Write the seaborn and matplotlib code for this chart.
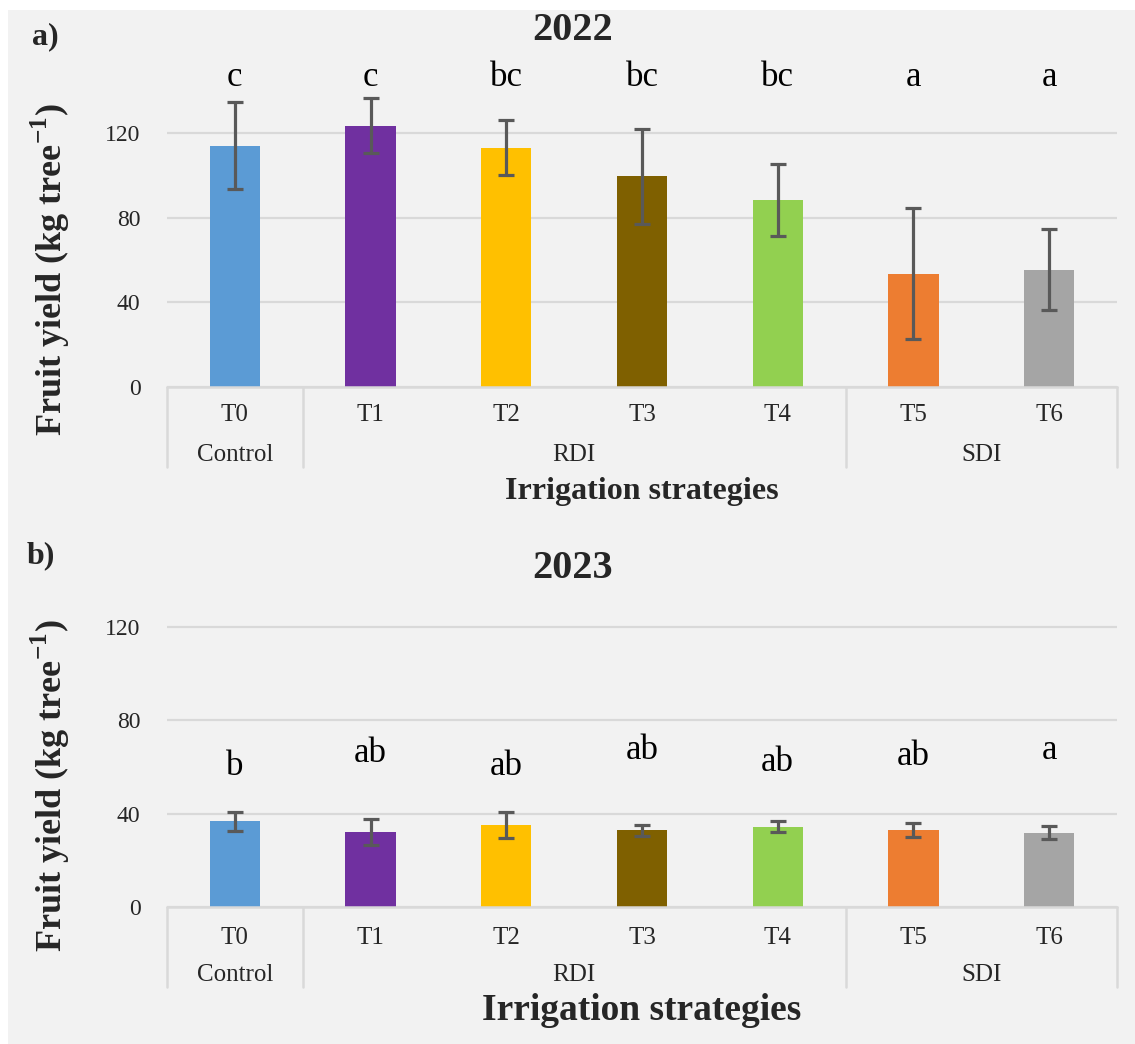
import numpy as np
import pandas as pd
import seaborn as sns
import matplotlib
matplotlib.use("Agg")
import matplotlib.pyplot as plt
from matplotlib.transforms import ScaledTranslation
from matplotlib.patches import Rectangle

# ---- data -------------------------------------------------------------
treatments = ["T0", "T1", "T2", "T3", "T4", "T5", "T6"]
strategies = ["Control", "RDI", "RDI", "RDI", "RDI", "SDI", "SDI"]
bar_colors = ["#5b9bd5", "#7030a0", "#ffc000", "#7f6000",
              "#92d050", "#ed7d31", "#a5a5a5"]

yield_2022 = [114.0, 123.5, 113.0, 99.5, 88.5, 53.5, 55.5]
err_2022 = [20.5, 13.0, 13.0, 22.5, 17.0, 31.0, 19.0]
letters_2022 = ["c", "c", "bc", "bc", "bc", "a", "a"]

yield_2023 = [36.7, 32.2, 35.0, 32.8, 34.5, 33.0, 31.9]
err_2023 = [4.2, 5.7, 5.6, 2.3, 2.4, 3.1, 2.9]
letters_2023 = ["b", "ab", "ab", "ab", "ab", "ab", "a"]

y_ticks = [0, 40, 80, 120]

# ---- style ------------------------------------------------------------
sns.set_style("white")
plt.rcParams["font.family"] = ["Liberation Serif", "DejaVu Serif"]
plt.rcParams["mathtext.fontset"] = "custom"
plt.rcParams["mathtext.rm"] = "Liberation Serif"
plt.rcParams["mathtext.bf"] = "Liberation Serif:bold"

BG = "#f2f2f2"
GRID = "#d9d9d9"
TXT = "#262626"
W, H, DPI = 1135, 1044, 100

fig = plt.figure(figsize=(W / DPI, H / DPI), dpi=DPI, facecolor=BG)
# thin white frame along the top and left edges
fig.patches.append(Rectangle((0, 1 - 10 / H), 1, 10 / H, transform=fig.transFigure,
                             facecolor="white", edgecolor="none", zorder=-1))
fig.patches.append(Rectangle((0, 0), 8 / W, 1, transform=fig.transFigure,
                             facecolor="white", edgecolor="none", zorder=-1))

YMAX = 160


def make_axes(base_px, px_per_unit):
    height_px = YMAX * px_per_unit
    return fig.add_axes([167 / W, 1 - base_px / H, 950 / W, height_px / H]), height_px


def below(ax, px):
    """x in data units, y a fixed number of pixels under the baseline."""
    return ax.get_xaxis_transform() + ScaledTranslation(0, -px / DPI, fig.dpi_scale_trans)


def draw_panel(ax, height_px, values, errors, letters, letter_y, letter_size,
               tick_off, group_off, xlabel_off, xlabel_size, sep_depth):
    df = pd.DataFrame({"Treatment": treatments, "Yield": values})
    sns.barplot(data=df, x="Treatment", y="Yield", hue="Treatment",
                palette=bar_colors, order=treatments, hue_order=treatments,
                width=0.37, errorbar=None, legend=False, ax=ax,
                linewidth=0, saturation=1)
    xs = np.arange(len(treatments))
    ax.errorbar(xs, values, yerr=errors, fmt="none", ecolor="#595959",
                elinewidth=2.3, capsize=5.5, capthick=2.3, zorder=3)

    for x, lab, ly in zip(xs, letters, letter_y):
        ax.text(x, ly, lab, ha="center", va="baseline",
                fontsize=letter_size, color="black")

    ax.set_facecolor(BG)
    ax.set_xlim(-0.5, len(treatments) - 0.5)
    ax.set_ylim(0, YMAX)
    ax.set_yticks(y_ticks)
    ax.yaxis.grid(True, color=GRID, linewidth=1.6)
    ax.set_axisbelow(True)
    for s in ax.spines.values():
        s.set_visible(False)
    ax.tick_params(axis="y", length=0, pad=19, labelsize=17, labelcolor=TXT)
    ax.set_xticks([])
    ax.set_xlabel("")
    ax.set_ylabel("")

    # multi-level category axis
    ax.plot([-0.5, len(treatments) - 0.5], [0, 0], color=GRID, lw=1.8,
            clip_on=False, zorder=1)
    depth = -sep_depth / height_px
    for xb in [-0.5, 0.5, 4.5, 6.5]:
        ax.plot([xb, xb], [0, depth], color=GRID, lw=1.8,
                transform=ax.get_xaxis_transform(), clip_on=False)
    for x, t in zip(xs, treatments):
        ax.text(x, 0, t, transform=below(ax, tick_off), ha="center", va="center",
                fontsize=18, color=TXT)
    groups = {}
    for x, g in zip(xs, strategies):
        groups.setdefault(g, []).append(x)
    for g, gx in groups.items():
        ax.text(np.mean(gx), 0, g, transform=below(ax, group_off), ha="center",
                va="center", fontsize=18, color=TXT)
    ax.text(3, 0, "Irrigation strategies", transform=below(ax, xlabel_off),
            ha="center", va="center", fontsize=xlabel_size, fontweight="bold")


ylabel = r"Fruit yield (kg tree$^{\mathbf{-1}}$)"

# ---- panel a: 2022 ----------------------------------------------------
ax_a, h_a = make_axes(387, 2.117)
draw_panel(ax_a, h_a, yield_2022, err_2022, letters_2022,
           [142] * 7, 25, tick_off=28, group_off=68, xlabel_off=105,
           xlabel_size=23, sep_depth=80)
fig.text(573 / W, 1 - 31 / H, "2022", ha="center", va="center",
         fontsize=29, fontweight="bold")
fig.text(32 / W, 1 - 37 / H, "a)", ha="left", va="center",
         fontsize=23, fontweight="bold")
fig.text(50 / W, 1 - 270 / H, ylabel, rotation=90, ha="center", va="center",
         fontsize=26, fontweight="bold")

# ---- panel b: 2023 ----------------------------------------------------
ax_b, h_b = make_axes(907, 2.333)
draw_panel(ax_b, h_b, yield_2023, err_2023, letters_2023,
           [56.6, 62.1, 56.6, 63.4, 58.3, 60.9, 63.4], 25,
           tick_off=31, group_off=68, xlabel_off=103, xlabel_size=27, sep_depth=80)
fig.text(573 / W, 1 - 569 / H, "2023", ha="center", va="center",
         fontsize=29, fontweight="bold")
fig.text(27 / W, 1 - 556 / H, "b)", ha="left", va="center",
         fontsize=23, fontweight="bold")
fig.text(50 / W, 1 - 786 / H, ylabel, rotation=90, ha="center", va="center",
         fontsize=26, fontweight="bold")

fig.savefig("out.png", dpi=DPI, facecolor=BG)
